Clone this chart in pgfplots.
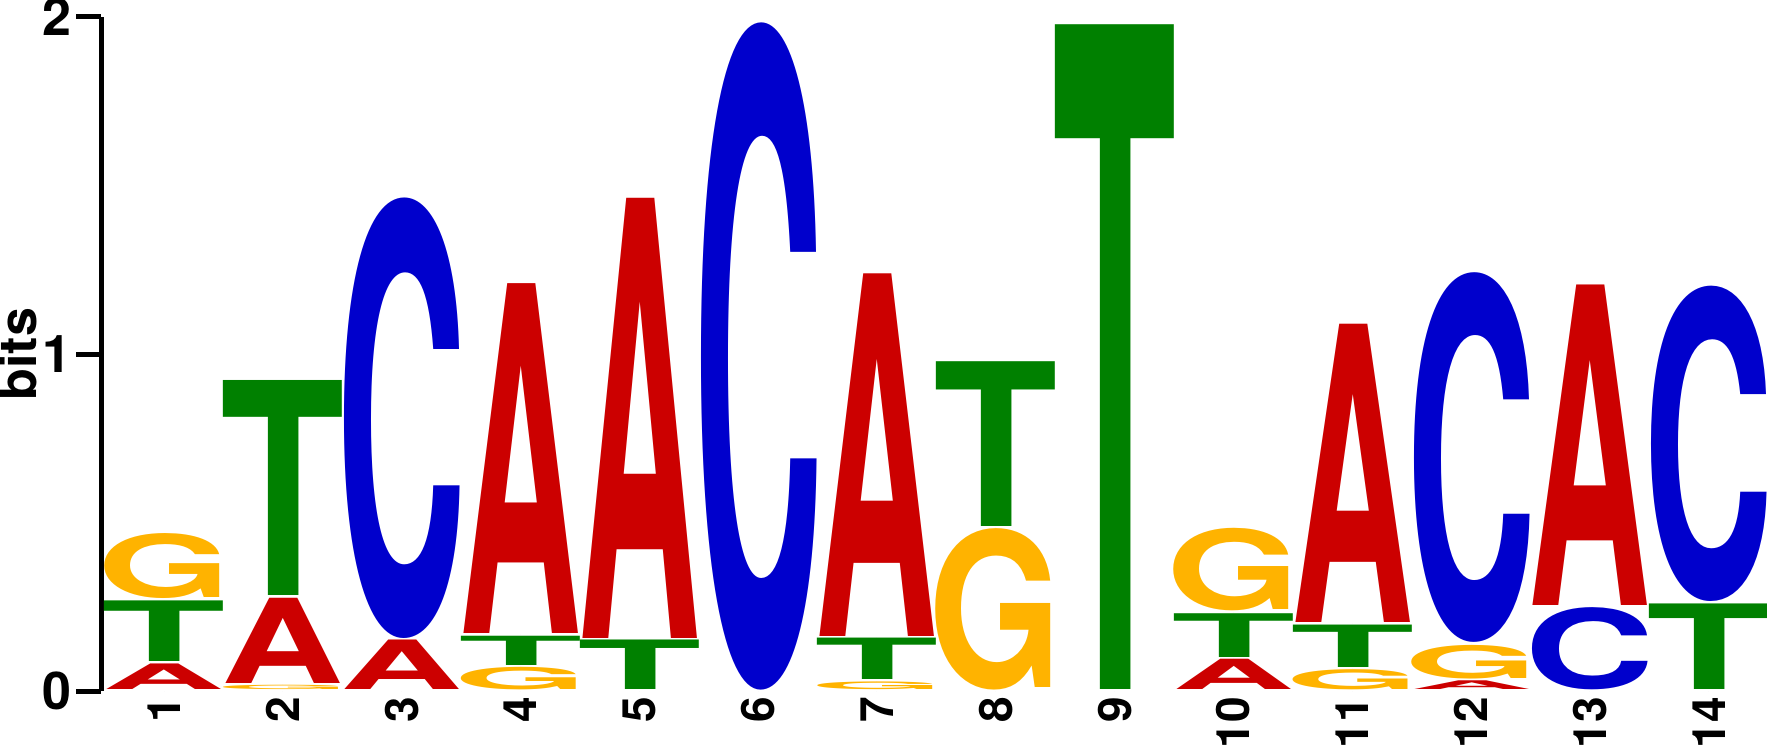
\documentclass[border=0pt]{standalone}
\usepackage{pgfplots}
\pgfplotsset{compat=1.18}
\usepackage{pgfplotstable}
\usepackage{graphicx}
\usepackage{fontspec}
\setmainfont{TeX Gyre Heros}

\definecolor{baseA}{HTML}{CC0000}
\definecolor{baseC}{HTML}{0000CC}
\definecolor{baseG}{HTML}{FFB300}
\definecolor{baseT}{HTML}{008000}

% letters nearly fill one column; height comes from point meta (0..2 bits -> 0..1000)
\newlength\letterw \setlength\letterw{28.8pt}
\newlength\letterh

% position, bottom of the letter (bits), height of the letter (bits)
\pgfplotstableread{
x y h
1  0     0.083
2  0.02  0.26
3  0     0.154
4  0.168 1.045
5  0.154 1.313
7  0.16  1.083
10 0     0.097
11 0.2   0.892
12 0     0.033
13 0.251 0.958
}\colA

\pgfplotstableread{
x y h
3  0.154 1.313
6  0     1.983
12 0.14  1.103
13 0     0.251
14 0.261 0.942
}\colC

\pgfplotstableread{
x y h
1  0.27  0.2
2  0     0.02
4  0     0.074
7  0     0.03
8  0     0.486
10 0.234 0.252
11 0     0.067
12 0.033 0.107
}\colG

\pgfplotstableread{
x y h
1  0.083 0.187
2  0.28  0.645
4  0.074 0.094
5  0     0.154
7  0.03  0.13
8  0.486 0.496
9  0     1.977
10 0.097 0.137
11 0.067 0.133
14 0     0.261
}\colT

\pgfplotsset{
  letter/.style n args={3}{
    only marks, scatter, mark=*, mark size=0pt,
    mark options={draw=none, fill=none},
    point meta=\thisrow{h}, point meta min=0, point meta max=2,
    scatter/@pre marker code/.code={%
      \setlength\letterh{0.1685pt}%
      \letterh=\pgfplotspointmetatransformed\letterh
      \addtolength\letterh{-0.6pt}%
      \node[anchor=south, inner sep=0pt, outer sep=0pt, text=#2] at (0pt,0.3pt)
        {\resizebox*{#3\letterw}{\letterh}{\bfseries #1}};%
    },
    scatter/@post marker code/.code={},
  },
}

\begin{document}
\begin{tikzpicture}
\begin{axis}[
  scale only axis, width=416.4pt, height=168.5pt,
  xmin=0.47, xmax=14.49, ymin=0, ymax=2,
  clip=false,
  axis lines*=left,
  x axis line style={draw=none},
  xtick={1,...,14},
  xtick style={draw=none},
  xtick align=inside,
  ytick={0,1,2},
  ytick align=outside,
  major tick length=6.25pt,
  y axis line style={line width=1.25pt},
  ytick style={line width=1.25pt, black},
  /pgf/number format/assume math mode=true,
  xticklabel style={rotate=90, anchor=east, inner sep=0pt, outer sep=1.5pt,
    font=\fontsize{11.5}{11.5}\selectfont\bfseries},
  yticklabel style={inner sep=0pt, outer sep=1.25pt,
    font=\fontsize{13}{13}\selectfont\bfseries},
  ylabel={bits},
  ylabel style={at={(axis description cs:-0.0378,0.5)}, anchor=south,
    inner sep=0pt, font=\fontsize{13}{13}\selectfont\bfseries},
]
\addplot[letter={A}{baseA}{1.06}] table[x=x, y=y] {\colA};
\addplot[letter={C}{baseC}{1.13}] table[x=x, y=y] {\colC};
\addplot[letter={G}{baseG}{1.16}] table[x=x, y=y] {\colG};
\addplot[letter={T}{baseT}{1.08}] table[x=x, y=y] {\colT};
\end{axis}
\pgfresetboundingbox
\path ([xshift=-25.25pt,yshift=-14.5pt]current axis.south west)
  rectangle ([yshift=4.25pt]current axis.north east);
\end{tikzpicture}
\end{document}
